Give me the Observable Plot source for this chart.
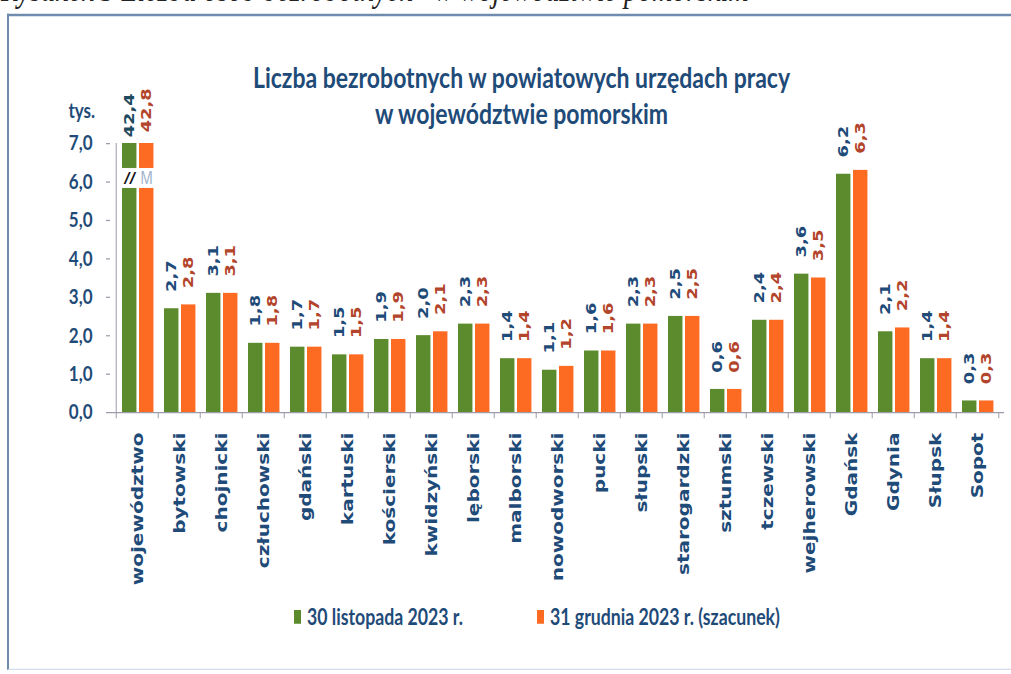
<!DOCTYPE html>
<html lang="pl">
<head>
<meta charset="utf-8">
<script src="https://cdn.jsdelivr.net/npm/d3@7"></script>
<script src="https://cdn.jsdelivr.net/npm/@observablehq/plot@0.6"></script>
<style>
  html, body { margin: 0; padding: 0; background: #fff; overflow: hidden; width: 1011px; height: 674px; }
  #wrap { position: absolute; left: 0; top: 0; width: 1011px; height: 539.2px; transform: scaleY(1.25); transform-origin: 0 0; }
  #caption { position: absolute; left: 1px; top: -22px; font: italic 28px/28px "Liberation Serif", serif; color: #222; white-space: nowrap; }
  #frame { position: absolute; left: 7px; top: 11px; width: 1030px; height: 525px; border-left: 2px solid #6f8cae; border-top: 2px solid #6f8cae; border-bottom: 1px solid #d3dde8; box-sizing: border-box; }
  #title { position: absolute; left: 0; top: 47.2px; width: 1043px; text-align: center; font: bold 23px/28.8px "Lato", sans-serif; color: #1f4b78; }
  #unit { position: absolute; left: 60px; width: 35px; top: 78px; text-align: right; font: bold 17px/20px "Lato", sans-serif; color: #1f4b78; }
  #chart { position: absolute; left: 0; top: 0; }
  .lg { position: absolute; font: bold 17.7px/20px "Lato", sans-serif; color: #1f4b78; white-space: nowrap; }
  .sw { position: absolute; width: 7px; height: 11px; }
</style>
</head>
<body>
<div id="wrap">
  <div id="caption"></div>
  <div id="frame"></div>
  <div id="title"></div>
  <div id="unit"></div>
  <div id="chart"></div>
  <div id="legend"></div>
</div>
<script>
// ---- data ----
const captionText = "Rysunek 3 Liczba osób bezrobotnych* w województwie pomorskim";
const titleLines = ["Liczba bezrobotnych w powiatowych urzędach pracy", "w województwie pomorskim"];
const unitLabel = "tys.";
const categories = ["województwo","bytowski","chojnicki","człuchowski","gdański","kartuski","kościerski","kwidzyński","lęborski","malborski","nowodworski","pucki","słupski","starogardzki","sztumski","tczewski","wejherowski","Gdańsk","Gdynia","Słupsk","Sopot"];
const nov2023 = [42.4,2.7,3.1,1.8,1.7,1.5,1.9,2.0,2.3,1.4,1.1,1.6,2.3,2.5,0.6,2.4,3.6,6.2,2.1,1.4,0.3];
const dec2023 = [42.8,2.8,3.1,1.8,1.7,1.5,1.9,2.1,2.3,1.4,1.2,1.6,2.3,2.5,0.6,2.4,3.5,6.3,2.2,1.4,0.3];
const seriesNames = ["30 listopada 2023 r.", "31 grudnia 2023 r. (szacunek)"];
const yTicks = [0, 1, 2, 3, 4, 5, 6, 7];
const yMax = 7;
const breakRange = [5.83, 6.35];

// ---- styles ----
const GREEN = "#5c8b2d", ORANGE = "#fd6a22";
const BLUE = "#1f4b78", RED = "#b2452b", AXIS = "#9c9cab";
const W = 1011, H = 539.2;
const mL = 110, mR = 7, mT = 114.4, mB = H - 329.6;
const step = (W - mL - mR) / categories.length;
const LABEL_FONT = "DejaVu Sans, sans-serif";

document.getElementById("caption").textContent = captionText;
document.getElementById("title").innerHTML = titleLines.join("<br>");
document.getElementById("unit").textContent = unitLabel;

const rows = categories.map((c, i) => ({cat: c, nov: nov2023[i], dec: dec2023[i]}));
const fmt = v => v.toFixed(1).replace(".", ",");
const capped = rows.filter(d => d.nov > yMax);
const normal = rows.filter(d => d.nov <= yMax);

const labelOpts = {rotate: -90, textAnchor: "start", lineAnchor: "middle", fontFamily: LABEL_FONT, fontSize: 14.3, fontWeight: "bold"};

const plot = Plot.plot({
  width: W, height: H,
  marginLeft: mL, marginRight: mR, marginTop: mT, marginBottom: mB,
  style: {background: "transparent", overflow: "visible"},
  x: {domain: categories, padding: 0, axis: null},
  y: {domain: [0, yMax], axis: null},
  marks: [
    Plot.barY(rows, {x: "cat", y: d => Math.min(d.nov, yMax), fill: GREEN, insetLeft: 6, insetRight: step - 21}),
    Plot.barY(rows, {x: "cat", y: d => Math.min(d.dec, yMax), fill: ORANGE, insetLeft: 23, insetRight: step - 38}),
    // axis break on the capped category
    Plot.barY(capped, {x: "cat", y1: () => breakRange[0], y2: () => breakRange[1], fill: "white"}),
    Plot.text(capped, {x: "cat", y: () => (breakRange[0] + breakRange[1]) / 2, text: () => "//", dx: -7.8, fill: "#111", fontSize: 13, fontWeight: "bold", fontStyle: "italic", lineAnchor: "middle"}),
    Plot.text(capped, {x: "cat", y: () => (breakRange[0] + breakRange[1]) / 2, text: () => "M", dx: 9.2, fill: "#9fb2cc", fontSize: 14, lineAnchor: "middle"}),
    // value labels
    Plot.text(normal, {x: "cat", y: "nov", text: d => fmt(d.nov), dx: -7.8, dy: -13.5, fill: BLUE, ...labelOpts}),
    Plot.text(normal, {x: "cat", y: "dec", text: d => fmt(d.dec), dx: 9.2, dy: -13.5, fill: RED, ...labelOpts}),
    Plot.text(capped, {x: "cat", y: () => yMax, text: d => fmt(d.nov), dx: -7.8, dy: -5, fill: "#1f4a5e", ...labelOpts}),
    Plot.text(capped, {x: "cat", y: () => yMax, text: d => fmt(d.dec), dx: 9.2, dy: -9, fill: RED, ...labelOpts}),
    // axes
    Plot.ruleY([0], {stroke: AXIS}),
    Plot.ruleX([categories[0]], {x: d => d, y1: 0, y2: yMax, dx: -step / 2, stroke: AXIS}),
    Plot.axisY({ticks: yTicks, tickSize: 4, tickFormat: () => "", stroke: AXIS, label: null}),
    Plot.axisY({ticks: yTicks, tickSize: 0, tickPadding: 18, tickFormat: fmt, fill: BLUE, fontFamily: "Lato, sans-serif", fontSize: 17, fontWeight: "bold", label: null}),
    Plot.axisX({tickSize: 5, tickFormat: () => "", dx: -step / 2, stroke: AXIS, label: null}),
    Plot.axisX({ticks: [categories[categories.length - 1]], tickSize: 5, tickFormat: () => "", dx: step / 2, stroke: AXIS, label: null}),
    Plot.axisX({tickSize: 0, tickPadding: 16, tickRotate: -90, fill: BLUE, fontFamily: LABEL_FONT, fontSize: 16, fontWeight: "bold", label: null})
  ]
});
document.getElementById("chart").appendChild(plot);

// legend
const legend = document.getElementById("legend");
const legendPos = [{sw: 294, tx: 307}, {sw: 537, tx: 550}];
const legendColors = [GREEN, ORANGE];
seriesNames.forEach((name, i) => {
  const sw = document.createElement("div");
  sw.className = "sw";
  sw.style.left = legendPos[i].sw + "px";
  sw.style.top = (493.6 - 5.5) + "px";
  sw.style.background = legendColors[i];
  legend.appendChild(sw);
  const t = document.createElement("div");
  t.className = "lg";
  t.style.left = legendPos[i].tx + "px";
  t.style.top = (493.6 - 10) + "px";
  t.textContent = name;
  legend.appendChild(t);
});
</script>
</body>
</html>
